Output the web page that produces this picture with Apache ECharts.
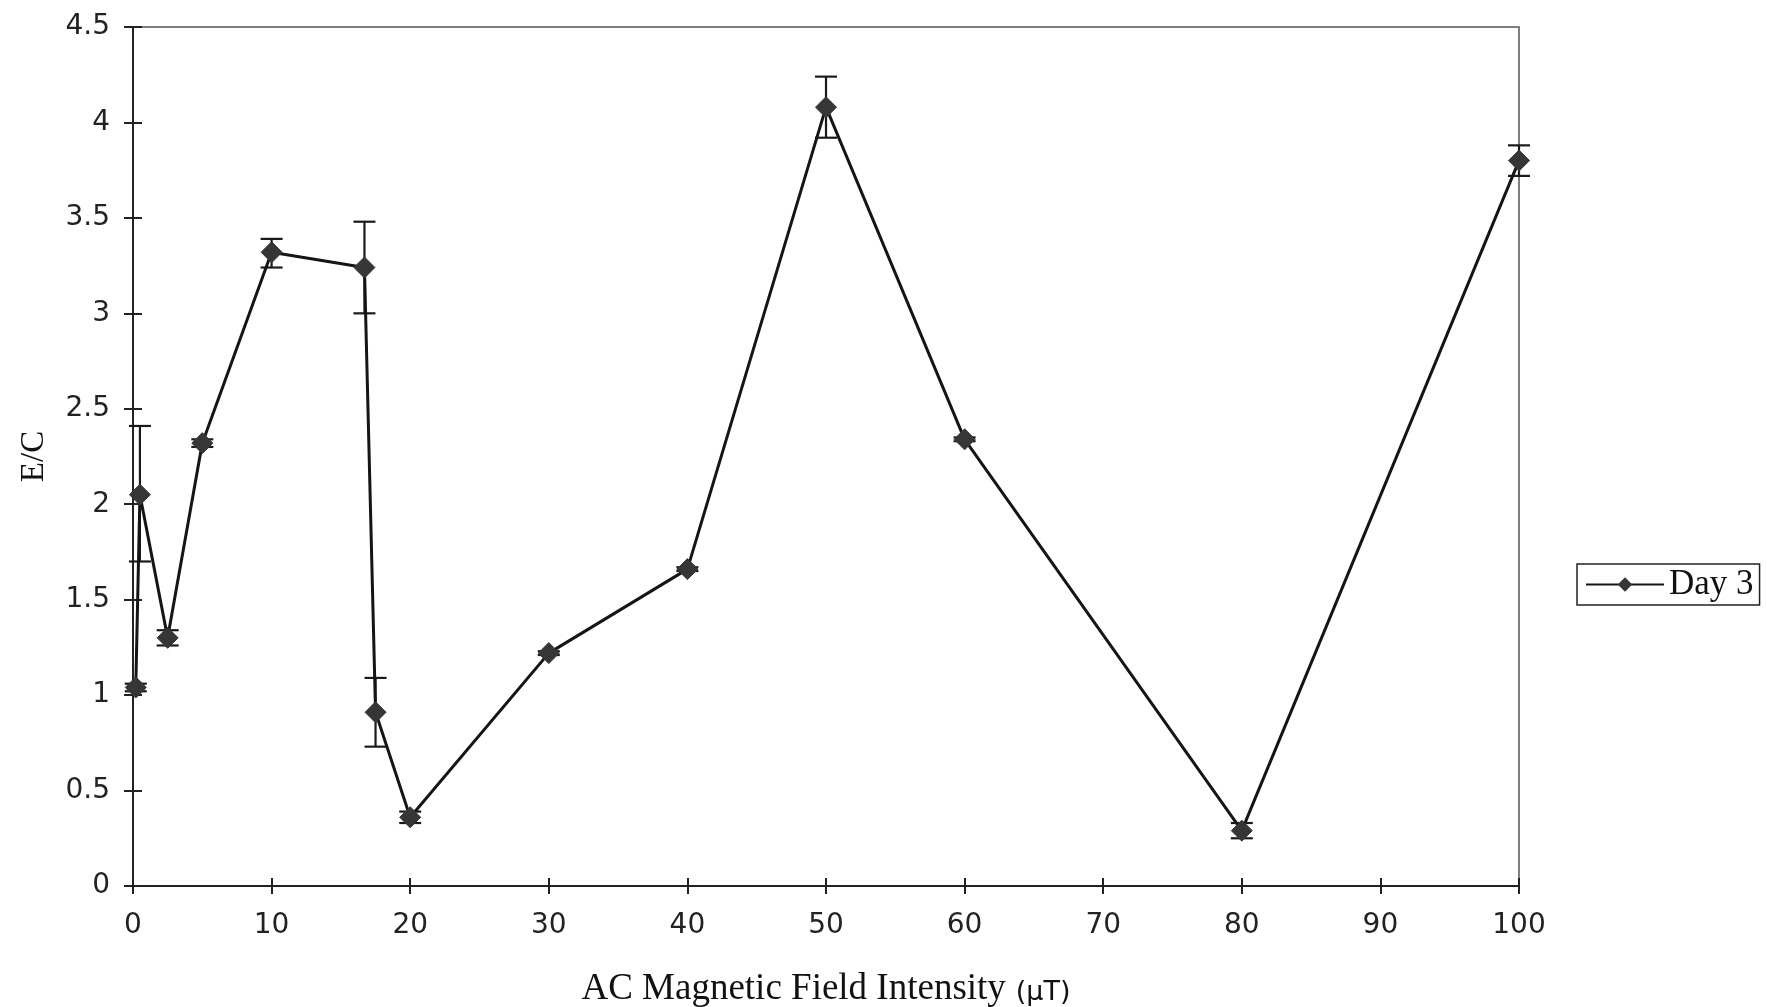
<!DOCTYPE html>
<html>
<head>
<meta charset="utf-8">
<script src="https://cdn.jsdelivr.net/npm/echarts@6/dist/echarts.min.js"></script>
<style>
  html, body { margin: 0; padding: 0; background: #fff; }
  #chart { width: 1767px; height: 1007px; }
</style>
</head>
<body>
<div id="chart"></div>
<script>
// field intensity (µT) and E/C ratio, Day 3
var fieldValues = [0.2, 0.5, 2.5, 5, 10, 16.7, 17.5, 20, 30, 40, 50, 60, 80, 100];
var ecValues    = [1.04, 2.05, 1.30, 2.32, 3.32, 3.24, 0.91, 0.36, 1.22, 1.66, 4.08, 2.34, 0.29, 3.80];
// error bar ends
var errLow  = [1.02, 1.70, 1.26, 2.30, 3.24, 3.00, 0.73, 0.33, 1.21, 1.65, 3.92, 2.33, 0.25, 3.72];
var errHigh = [1.06, 2.41, 1.34, 2.34, 3.39, 3.48, 1.09, 0.39, 1.23, 1.67, 4.24, 2.35, 0.33, 3.88];

var xTicks = { min: 0, max: 100, interval: 10 };
var yTicks = { min: 0, max: 4.5, interval: 0.5 };

var lineData = fieldValues.map(function (x, i) { return [x, ecValues[i]]; });
var errData = fieldValues.map(function (x, i) { return [x, errLow[i], errHigh[i]]; });

var myChart = echarts.init(document.getElementById('chart'));

var tickFont = { fontFamily: 'DejaVu Sans', fontSize: 28, color: '#222' };

var option = {
    animation: false,
    backgroundColor: '#fff',
    grid: {
        left: 133, right: 248, top: 27, bottom: 121,
        outerBoundsMode: 'none',
        show: true,
        borderColor: '#555',
        borderWidth: 1.5
    },
    legend: {
        data: ['Day 3'],
        left: 1577,
        top: 564,
        padding: [3, 6, 3, 8],
        borderColor: '#222',
        borderWidth: 1.5,
        itemWidth: 78,
        itemHeight: 18,
        itemGap: 4,
        textStyle: { fontFamily: 'Liberation Serif', fontSize: 35, color: '#111' }
    },
    xAxis: [
        {
            type: 'value',
            min: xTicks.min, max: xTicks.max, interval: xTicks.interval,
            splitLine: { show: false },
            axisLine: { lineStyle: { color: '#222', width: 2 } },
            axisTick: { show: true, length: 8, lineStyle: { color: '#222', width: 2 } },
            axisLabel: Object.assign({ margin: 26 }, tickFont),
            name: '{a|AC Magnetic Field Intensity}{b|(μT)}',
            nameLocation: 'middle',
            nameGap: 85,
            nameTextStyle: {
                rich: {
                    a: { fontFamily: 'Liberation Serif', fontSize: 37, color: '#111' },
                    b: { fontFamily: 'DejaVu Sans', fontSize: 27, color: '#111', padding: [6, 0, 0, 10] }
                }
            }
        },
        {
            // inner half of the crossing ticks
            type: 'value',
            position: 'bottom',
            min: xTicks.min, max: xTicks.max, interval: xTicks.interval,
            splitLine: { show: false },
            axisLine: { show: false },
            axisTick: { show: true, inside: true, length: 8, lineStyle: { color: '#222', width: 2 } },
            axisLabel: { show: false }
        }
    ],
    yAxis: [
        {
            type: 'value',
            min: yTicks.min, max: yTicks.max, interval: yTicks.interval,
            splitLine: { show: false },
            axisLine: { lineStyle: { color: '#222', width: 2 } },
            axisTick: { show: true, length: 9, lineStyle: { color: '#222', width: 2 } },
            axisLabel: Object.assign({ margin: 23 }, tickFont),
            name: 'E/C',
            nameLocation: 'middle',
            nameGap: 82,
            nameTextStyle: { fontFamily: 'Liberation Serif', fontSize: 33, color: '#111' }
        },
        {
            type: 'value',
            position: 'left',
            min: yTicks.min, max: yTicks.max, interval: yTicks.interval,
            splitLine: { show: false },
            axisLine: { show: false },
            axisTick: { show: true, inside: true, length: 9, lineStyle: { color: '#222', width: 2 } },
            axisLabel: { show: false }
        }
    ],
    series: [
        {
            name: 'errbars',
            type: 'custom',
            xAxisIndex: 0,
            yAxisIndex: 0,
            z: 3,
            encode: { x: 0, y: [1, 2] },
            renderItem: function (params, api) {
                var x = api.value(0);
                var top = api.coord([x, api.value(2)]);
                var bot = api.coord([x, api.value(1)]);
                var w = 11;
                var st = { stroke: '#1a1a1a', lineWidth: 2.2 };
                return {
                    type: 'group',
                    children: [
                        { type: 'line', shape: { x1: top[0], y1: top[1], x2: bot[0], y2: bot[1] }, style: st },
                        { type: 'line', shape: { x1: top[0] - w, y1: top[1], x2: top[0] + w, y2: top[1] }, style: st },
                        { type: 'line', shape: { x1: bot[0] - w, y1: bot[1], x2: bot[0] + w, y2: bot[1] }, style: st }
                    ]
                };
            },
            data: errData
        },
        {
            name: 'Day 3',
            type: 'line',
            xAxisIndex: 0,
            yAxisIndex: 0,
            z: 4,
            symbol: 'diamond',
            symbolSize: [21, 21],
            showAllSymbol: true,
            itemStyle: { color: '#363636', borderColor: '#363636' },
            lineStyle: { color: '#151515', width: 3 },
            data: lineData
        }
    ]
};

myChart.setOption(option);
</script>
</body>
</html>
